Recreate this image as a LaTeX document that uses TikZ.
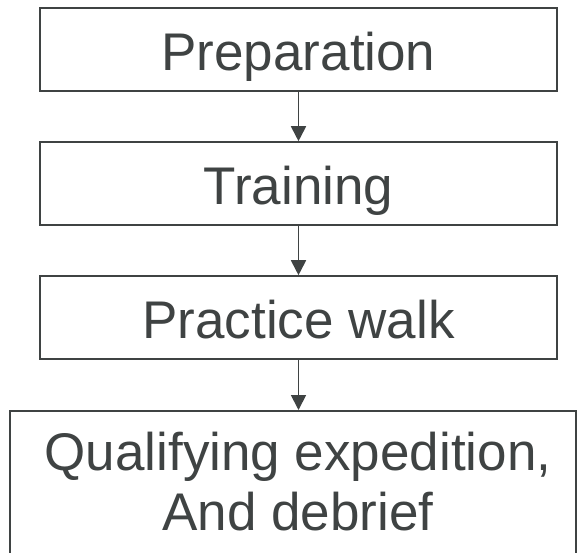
\documentclass[tikz,border=0pt]{standalone}
\usepackage{fontspec}
\setmainfont{Liberation Sans}
\usetikzlibrary{arrows.meta}
\definecolor{ink}{RGB}{63,67,67}
\begin{document}
\begin{tikzpicture}[x=1pt,y=-1pt,
  stepbox/.style={draw=ink, line width=1.6pt, minimum width=517pt, minimum height=83pt,
    inner sep=0pt, text=ink, font=\fontsize{53}{60}\selectfont, text height=52pt, text depth=11pt},
  bigbox/.style={draw=ink, line width=1.6pt, minimum width=566pt, minimum height=200pt, inner sep=0pt},
  txt/.style={text=ink, font=\fontsize{53}{60}\selectfont, align=center, inner sep=0pt},
  arr/.style={draw=ink, line width=1.8pt, -{Triangle[length=15pt,width=15pt]}}]
\useasboundingbox (0,0) rectangle (578,552);
\clip (0,0) rectangle (578,552);
\fill[white] (0,0) rectangle (578,552);
\node[stepbox] (a) at (298.5,49.5) {Preparation};
\node[stepbox] (b) at (298.5,183.5) {Training};
\node[stepbox] (c) at (298.5,317.5) {Practice walk};
\node[bigbox, anchor=north] (d) at (293,410) {};
\node[txt, anchor=north] (dt) at (298,432) {Qualifying expedition,\\And debrief};
\draw[arr] (a.south) -- (b.north);
\draw[arr] (b.south) -- (c.north);
\draw[arr] (c.south) -- (c.south |- d.north);
\end{tikzpicture}
\end{document}
